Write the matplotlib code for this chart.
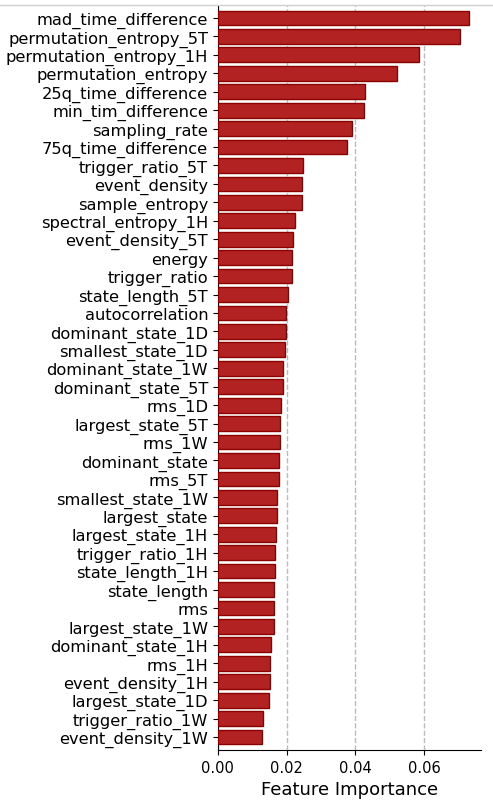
import matplotlib
matplotlib.use("Agg")
import matplotlib.pyplot as plt
from matplotlib.lines import Line2D

features = [
    "mad_time_difference", "permutation_entropy_5T", "permutation_entropy_1H",
    "permutation_entropy", "25q_time_difference", "min_tim_difference",
    "sampling_rate", "75q_time_difference", "trigger_ratio_5T", "event_density",
    "sample_entropy", "spectral_entropy_1H", "event_density_5T", "energy",
    "trigger_ratio", "state_length_5T", "autocorrelation", "dominant_state_1D",
    "smallest_state_1D", "dominant_state_1W", "dominant_state_5T", "rms_1D",
    "largest_state_5T", "rms_1W", "dominant_state", "rms_5T",
    "smallest_state_1W", "largest_state", "largest_state_1H", "trigger_ratio_1H",
    "state_length_1H", "state_length", "rms", "largest_state_1W",
    "dominant_state_1H", "rms_1H", "event_density_1H", "largest_state_1D",
    "trigger_ratio_1W", "event_density_1W",
]
importance = [
    0.0730, 0.0705, 0.0585, 0.0521, 0.0427, 0.0424, 0.0390, 0.0375, 0.0247, 0.0245,
    0.0244, 0.0224, 0.0218, 0.0215, 0.0215, 0.0204, 0.0199, 0.0198, 0.0194, 0.0190,
    0.0189, 0.0183, 0.0182, 0.0180, 0.0179, 0.0177, 0.0172, 0.0171, 0.0169, 0.0166,
    0.0166, 0.0164, 0.0163, 0.0163, 0.0154, 0.0153, 0.0152, 0.0149, 0.0130, 0.0129,
]
x_ticks = [0.00, 0.02, 0.04, 0.06]

fig = plt.figure(figsize=(4.93, 8.03), dpi=100)
ax = fig.add_axes([0.442, 0.0648, 0.534, 0.9277])

y = list(range(len(features)))
ax.barh(y, importance, height=0.8, color="#b22222", edgecolor="#8b0000",
        linewidth=1.0, zorder=3)
ax.set_yticks(y)
ax.set_yticklabels(features, fontsize=11.7)
ax.set_ylim(len(features) - 0.3, -0.7)
ax.set_xlim(0, 0.0766)
ax.set_xticks(x_ticks)
ax.set_xticklabels([f"{t:.2f}" for t in x_ticks], fontsize=10.5)
ax.set_xlabel("Feature Importance", fontsize=13)
ax.grid(axis="x", linestyle="--", color="#bbbbbb", linewidth=1.0, zorder=0)
ax.spines["top"].set_visible(False)
ax.spines["right"].set_visible(False)

# thin gray border line at the very top of the image
fig.add_artist(Line2D([0, 1], [1 - 6 / 803, 1 - 6 / 803], transform=fig.transFigure,
                      color="#d0d0d0", linewidth=1.0))

fig.savefig("out.png", dpi=100)
